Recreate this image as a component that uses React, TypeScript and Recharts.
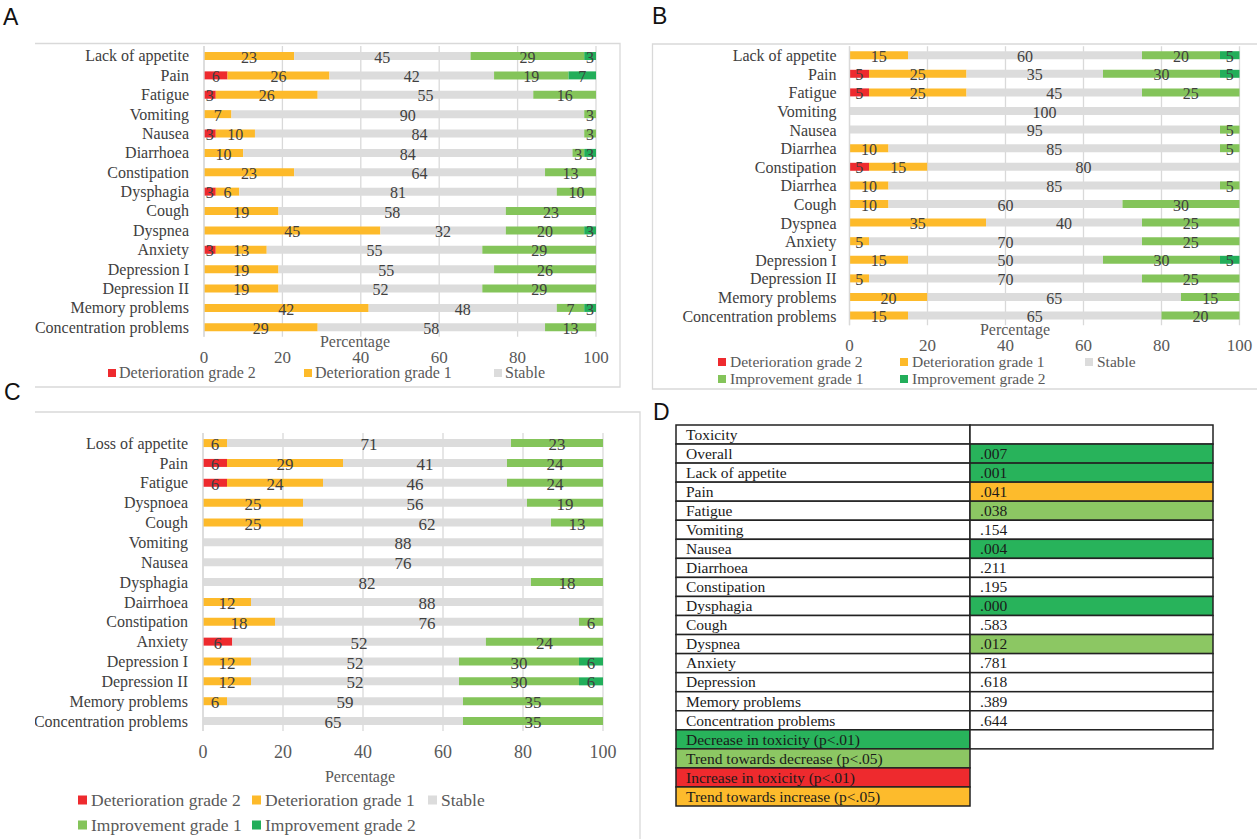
import React from 'react';
import { BarChart, Bar, XAxis, YAxis, CartesianGrid, LabelList } from 'recharts';

const SERIF = '"Liberation Serif", "Times New Roman", serif';
const SANS = '"Liberation Sans", Arial, sans-serif';

const SERIES = [
  { key: 'd2', name: 'Deterioration grade 2', color: '#EE2A2E' },
  { key: 'd1', name: 'Deterioration grade 1', color: '#FDBA2A' },
  { key: 's', name: 'Stable', color: '#DCDCDC' },
  { key: 'i1', name: 'Improvement grade 1', color: '#84C45A' },
  { key: 'i2', name: 'Improvement grade 2', color: '#22AE5A' },
];

const TICKS = [0, 20, 40, 60, 80, 100];
const AXIS_TITLE = 'Percentage';

// ---------- Panel A ----------
const A_CATEGORIES = ['Lack of appetite', 'Pain', 'Fatigue', 'Vomiting', 'Nausea', 'Diarrhoea', 'Constipation', 'Dysphagia', 'Cough', 'Dyspnea', 'Anxiety', 'Depression I', 'Depression II', 'Memory problems', 'Concentration problems'];
const A_DET2 = [0, 6, 3, 0, 3, 0, 0, 3, 0, 0, 3, 0, 0, 0, 0];
const A_DET1 = [23, 26, 26, 7, 10, 10, 23, 6, 19, 45, 13, 19, 19, 42, 29];
const A_STABLE = [45, 42, 55, 90, 84, 84, 64, 81, 58, 32, 55, 55, 52, 48, 58];
const A_IMP1 = [29, 19, 16, 3, 3, 3, 13, 10, 23, 20, 29, 26, 29, 7, 13];
const A_IMP2 = [3, 7, 0, 0, 0, 3, 0, 0, 0, 3, 0, 0, 0, 3, 0];

// ---------- Panel B ----------
const B_CATEGORIES = ['Lack of appetite', 'Pain', 'Fatigue', 'Vomiting', 'Nausea', 'Diarrhea', 'Constipation', 'Diarrhea', 'Cough', 'Dyspnea', 'Anxiety', 'Depression I', 'Depression II', 'Memory problems', 'Concentration problems'];
const B_DET2 = [0, 5, 5, 0, 0, 0, 5, 0, 0, 0, 0, 0, 0, 0, 0];
const B_DET1 = [15, 25, 25, 0, 0, 10, 15, 10, 10, 35, 5, 15, 5, 20, 15];
const B_STABLE = [60, 35, 45, 100, 95, 85, 80, 85, 60, 40, 70, 50, 70, 65, 65];
const B_IMP1 = [20, 30, 25, 0, 5, 5, 0, 5, 30, 25, 25, 30, 25, 15, 20];
const B_IMP2 = [5, 5, 0, 0, 0, 0, 0, 0, 0, 0, 0, 5, 0, 0, 0];

// ---------- Panel C ----------
const C_CATEGORIES = ['Loss of appetite', 'Pain', 'Fatigue', 'Dyspnoea', 'Cough', 'Vomiting', 'Nausea', 'Dysphagia', 'Dairrhoea', 'Constipation', 'Anxiety', 'Depression I', 'Depression II', 'Memory problems', 'Concentration problems'];
const C_DET2 = [0, 6, 6, 0, 0, 0, 0, 0, 0, 0, 6, 0, 0, 0, 0];
const C_DET1 = [6, 29, 24, 25, 25, 0, 0, 0, 12, 18, 0, 12, 12, 6, 0];
const C_STABLE = [71, 41, 46, 56, 62, 88, 76, 82, 88, 76, 52, 52, 52, 59, 65];
const C_IMP1 = [23, 24, 24, 19, 13, 0, 0, 18, 0, 6, 24, 30, 30, 35, 35];
const C_IMP2 = [0, 0, 0, 0, 0, 0, 0, 0, 0, 0, 0, 6, 6, 0, 0];

// ---------- Panel D ----------
const D_HEADER = 'Toxicity';
const D_ITEMS = ['Overall', 'Lack of appetite', 'Pain', 'Fatigue', 'Vomiting', 'Nausea', 'Diarrhoea', 'Constipation', 'Dysphagia', 'Cough', 'Dyspnea', 'Anxiety', 'Depression', 'Memory problems', 'Concentration problems'];
const D_PVALUES = ['.007', '.001', '.041', '.038', '.154', '.004', '.211', '.195', '.000', '.583', '.012', '.781', '.618', '.389', '.644'];
const D_SIGNIF = ['dec', 'dec', 'inc-trend', 'dec-trend', '', 'dec', '', '', 'dec', '', 'dec-trend', '', '', '', ''];
const D_LEGEND = [
  { key: 'dec', label: 'Decrease in toxicity (p<.01)' },
  { key: 'dec-trend', label: 'Trend towards decrease (p<.05)' },
  { key: 'inc', label: 'Increase in toxicity (p<.01)' },
  { key: 'inc-trend', label: 'Trend towards increase (p<.05)' },
];
const D_COLORS: Record<string, string> = {
  dec: '#28B35B',
  'dec-trend': '#8CC763',
  inc: '#EE2A2E',
  'inc-trend': '#FDBB2C',
  '': '#FFFFFF',
};

function buildRows(cats: string[], d2: number[], d1: number[], s: number[], i1: number[], i2: number[]) {
  return cats.map((name, i) => ({ name, d2: d2[i], d1: d1[i], s: s[i], i1: i1[i], i2: i2[i] }));
}

const A_DATA = buildRows(A_CATEGORIES, A_DET2, A_DET1, A_STABLE, A_IMP1, A_IMP2);
const B_DATA = buildRows(B_CATEGORIES, B_DET2, B_DET1, B_STABLE, B_IMP1, B_IMP2);
const C_DATA = buildRows(C_CATEGORIES, C_DET2, C_DET1, C_STABLE, C_IMP1, C_IMP2);

type PanelCfg = {
  data: any[];
  left: number; top: number; width: number;
  yW: number; mt: number; mr: number; plotH: number;
  barSize: number; catFont: number; valFont: number; tickFont: number;
  tickOffset: number; pctDx: number; pctDy: number; catGap: number;
};

const fmt = (v: any) => (v ? String(v) : '');

function StackedPanel({ cfg }: { cfg: PanelCfg }) {
  const height = cfg.mt + cfg.plotH + 60;
  const pctLabel = (props: any) => {
    const vb = props.viewBox || {};
    return (
      <text
        x={vb.x + vb.width / 2 + cfg.pctDx}
        y={vb.y + cfg.pctDy}
        textAnchor="middle"
        fontSize={16}
        fill="#595959"
        style={{ fontFamily: SERIF }}
      >
        {AXIS_TITLE}
      </text>
    );
  };
  return (
    <div style={{ position: 'absolute', left: cfg.left, top: cfg.top, width: cfg.width, height, fontFamily: SERIF }}>
      <BarChart
        width={cfg.width}
        height={height}
        data={cfg.data}
        layout="vertical"
        stackOffset="expand"
        barSize={cfg.barSize}
        margin={{ top: cfg.mt, right: cfg.mr, bottom: 0, left: 0 }}
        style={{ fontFamily: SERIF }}
      >
        <CartesianGrid horizontal={false} vertical stroke="#D9D9D9" strokeWidth={1.3} />
        <XAxis
          type="number"
          domain={[0, 1]}
          ticks={TICKS.map((t) => t / 100)}
          tickFormatter={(v: number) => String(TICKS[Math.round(v * 5)] ?? Math.round(v * 100))}
          axisLine={false}
          tickLine={false}
          tickSize={6}
          tickMargin={cfg.tickOffset - 6}
          height={60}
          interval={0}
          tick={{ fontSize: cfg.tickFont, fill: '#595959', fontFamily: SERIF, style: { fontFamily: SERIF } }}
          label={pctLabel}
        />
        <YAxis
          type="category"
          dataKey="name"
          width={cfg.yW}
          axisLine={{ stroke: '#D9D9D9', strokeWidth: 1.3 }}
          tickLine={false}
          tickSize={6}
          tickMargin={cfg.catGap - 6}
          interval={0}
          tick={{ fontSize: cfg.catFont, fill: '#404040', fontFamily: SERIF, style: { fontFamily: SERIF } }}
        />
        {SERIES.map((s) => (
          <Bar key={s.key} dataKey={s.key} name={s.name} stackId="a" fill={s.color} isAnimationActive={false}>
            <LabelList
              dataKey={s.key}
              position="center"
              formatter={fmt}
              fill="#404040"
              fontSize={cfg.valFont}
              fontFamily={SERIF}
              style={{ fontFamily: SERIF }}
              dy={1}
            />
          </Bar>
        ))}
      </BarChart>
    </div>
  );
}

const PANEL_A: PanelCfg = {
  data: A_DATA, left: 35, top: 43, width: 584, yW: 169, mt: 3, mr: 23, plotH: 290.7,
  barSize: 8, catFont: 16, valFont: 16, tickFont: 17, tickOffset: 14.3, pctDx: -45, pctDy: 10, catGap: 15,
};
const PANEL_B: PanelCfg = {
  data: B_DATA, left: 653, top: 44, width: 604, yW: 196.5, mt: 2.2, mr: 17.5, plotH: 279,
  barSize: 8, catFont: 16, valFont: 16, tickFont: 17, tickOffset: 14, pctDx: -29.5, pctDy: 10, catGap: 13,
};
const PANEL_C: PanelCfg = {
  data: C_DATA, left: 35, top: 412, width: 602, yW: 168, mt: 21.07, mr: 34, plotH: 297.86,
  barSize: 8, catFont: 16, valFont: 17, tickFont: 18, tickOffset: 14.7, pctDx: -43, pctDy: 50.6, catGap: 15,
};

type LegendItem = { key: string; x: number; y: number };

function LegendRow({ items, fontSize, sq, gap }: { items: LegendItem[]; fontSize: number; sq: number; gap: number }) {
  return (
    <g>
      {items.map((it) => {
        const s = SERIES.find((x) => x.key === it.key)!;
        return (
          <g key={it.key + it.x + it.y}>
            <rect x={it.x} y={it.y - sq / 2} width={sq} height={sq} fill={s.color} />
            <text x={it.x + gap} y={it.y + fontSize * 0.32} fontSize={fontSize} fill="#595959" style={{ fontFamily: SERIF }}>
              {s.name}
            </text>
          </g>
        );
      })}
    </g>
  );
}

function ToxicityTable() {
  const left = 676;
  const mid = 970;
  const right = 1213;
  const top = 425;
  const rh = 19.05;
  const fs = 15.5;
  const rows: { label: string; fillL: string; value?: string; fillR?: string; hasRight: boolean }[] = [];
  rows.push({ label: D_HEADER, fillL: '#FFFFFF', value: '', fillR: '#FFFFFF', hasRight: true });
  D_ITEMS.forEach((name, i) => {
    rows.push({ label: name, fillL: '#FFFFFF', value: D_PVALUES[i], fillR: D_COLORS[D_SIGNIF[i]], hasRight: true });
  });
  D_LEGEND.forEach((l, i) => {
    rows.push({ label: l.label, fillL: D_COLORS[l.key], value: '', fillR: '#FFFFFF', hasRight: i === 0 });
  });
  return (
    <g>
      {rows.map((r, i) => {
        const y = top + i * rh;
        return (
          <g key={i}>
            <rect x={left} y={y} width={mid - left} height={rh} fill={r.fillL} stroke="#222" strokeWidth={1.5} />
            {r.hasRight && <rect x={mid} y={y} width={right - mid} height={rh} fill={r.fillR} stroke="#222" strokeWidth={1.5} />}
            <text x={left + 10} y={y + 14.8} fontSize={fs} fill="#1A1A1A" style={{ fontFamily: SERIF }}>{r.label}</text>
            {r.hasRight && r.value ? (
              <text x={mid + 10} y={y + 14.8} fontSize={fs} fill="#1A1A1A" style={{ fontFamily: SERIF }}>{r.value}</text>
            ) : null}
          </g>
        );
      })}
    </g>
  );
}

export default function App() {
  return (
    <div style={{ position: 'absolute', left: 0, top: 0, width: 1257, height: 839, background: '#FFFFFF', overflow: 'hidden', fontFamily: SERIF }}>
      <svg width={1257} height={839} style={{ position: 'absolute', left: 0, top: 0 }}>
        {/* panel frames */}
        <path d="M35,43.5 H620 V387 H35" fill="none" stroke="#D9D9D9" strokeWidth={1.3} />
        <path d="M1257,44 H652.5 V389 H1257" fill="none" stroke="#D9D9D9" strokeWidth={1.3} />
        <path d="M35,412 H640 V839" fill="none" stroke="#D9D9D9" strokeWidth={1.3} />
        {/* panel letters */}
        <text x={3} y={25} fontSize={23} fill="#111" style={{ fontFamily: SANS }}>A</text>
        <text x={652} y={24} fontSize={23} fill="#111" style={{ fontFamily: SANS }}>B</text>
        <text x={4} y={400} fontSize={23} fill="#111" style={{ fontFamily: SANS }}>C</text>
        <text x={653} y={420} fontSize={23} fill="#111" style={{ fontFamily: SANS }}>D</text>
        {/* legends */}
        <LegendRow fontSize={16} sq={8} gap={11} items={[
          { key: 'd2', x: 108, y: 373 }, { key: 'd1', x: 304, y: 373 }, { key: 's', x: 494, y: 373 },
        ]} />
        <LegendRow fontSize={15.5} sq={8} gap={12} items={[
          { key: 'd2', x: 718, y: 362 }, { key: 'd1', x: 900, y: 362 }, { key: 's', x: 1085, y: 362 },
          { key: 'i1', x: 718, y: 379 }, { key: 'i2', x: 900, y: 379 },
        ]} />
        <LegendRow fontSize={17.5} sq={9} gap={13} items={[
          { key: 'd2', x: 78, y: 800 }, { key: 'd1', x: 252, y: 800 }, { key: 's', x: 428, y: 800 },
          { key: 'i1', x: 78, y: 825 }, { key: 'i2', x: 252, y: 825 },
        ]} />
        <ToxicityTable />
      </svg>
      <StackedPanel cfg={PANEL_A} />
      <StackedPanel cfg={PANEL_B} />
      <StackedPanel cfg={PANEL_C} />
    </div>
  );
}
